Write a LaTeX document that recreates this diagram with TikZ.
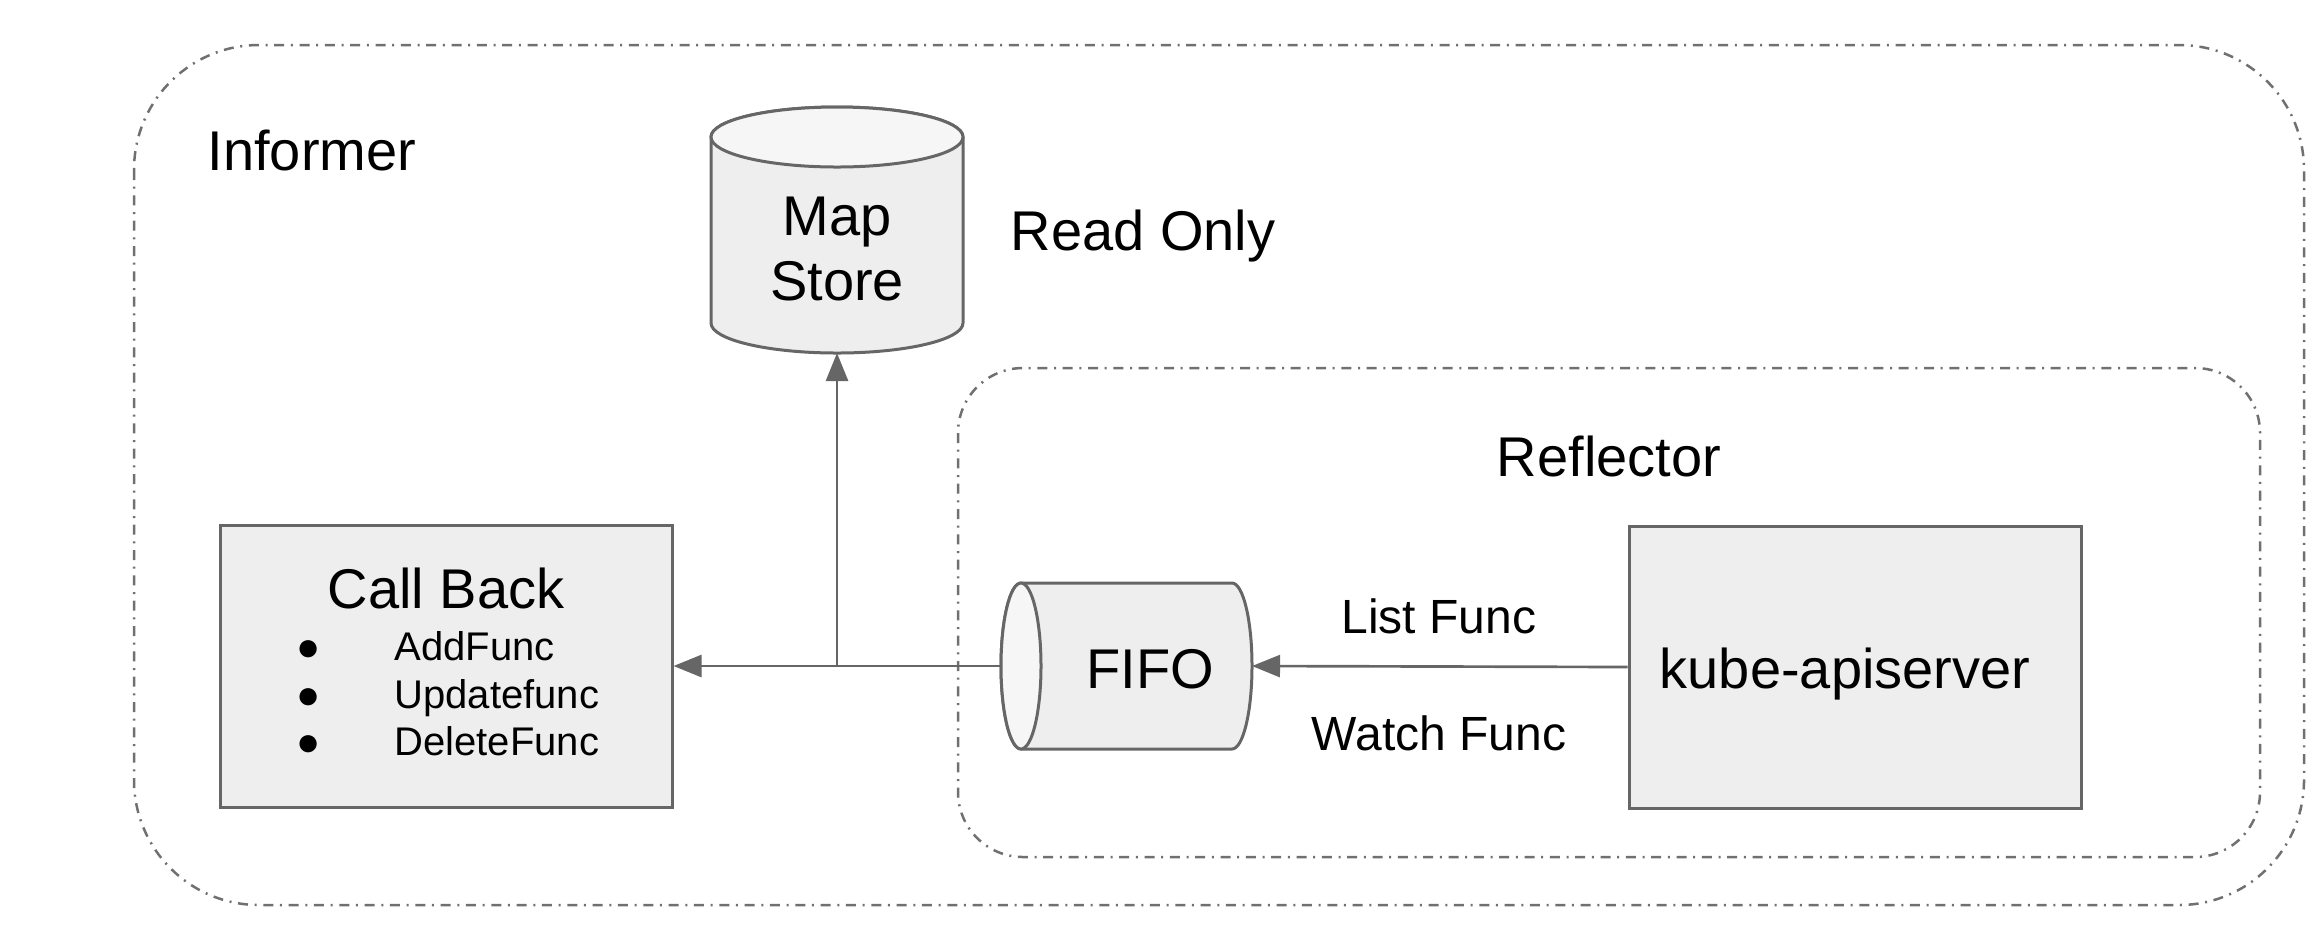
\documentclass[tikz,border=0pt]{standalone}
\usepackage{fontspec}
\setmainfont{Liberation Sans}
\usetikzlibrary{arrows.meta}
\definecolor{boxfill}{HTML}{EEEEEE}
\definecolor{capfill}{HTML}{F6F6F6}
\definecolor{edge}{HTML}{666666}
\definecolor{dashc}{HTML}{707070}
\newcommand{\blt}{\makebox[5.1pt]{●}\hspace{23.25pt}}
\begin{document}
\begin{tikzpicture}[x=0.3pt,y=-0.3pt,
  grp/.style={draw=dashc, line width=0.75pt, dash pattern=on 3pt off 2pt on 0.6pt off 2pt},
  box/.style={draw=edge, fill=boxfill, line width=0.9pt, inner sep=0pt},
  big/.style={font=\fontsize{16.8}{19.5}\selectfont, inner sep=0pt},
  mid/.style={font=\fontsize{14.4}{17}\selectfont, inner sep=0pt},
  small/.style={font=\fontsize{12}{14.25}\selectfont, inner sep=0pt},
  conn/.style={draw=edge, line width=0.8pt},
  arr/.style={conn, -{Triangle[length=8.4pt,width=6.6pt]}},
  ghost/.style={inner sep=0pt, outer sep=0pt}]

\useasboundingbox (0,0) rectangle (2324,942);

% group frames
\draw[grp, rounded corners=37.5pt] (134,45) rectangle (2304,905);
\draw[grp, rounded corners=19.5pt] (958,368) rectangle (2260,857);

% boxes
\node[box, minimum width=135.6pt, minimum height=84.6pt] (callback) at (446,666) {};
\node[box, minimum width=135.6pt, minimum height=84.6pt] (kube) at (1855,667) {};

% Map Store cylinder
\node[ghost, minimum width=75.6pt, minimum height=73.8pt] (store) at (837,230) {};
\filldraw[draw=edge, fill=boxfill, line width=0.9pt]
  (711,137) -- (711,323)
  arc[start angle=180, end angle=360, x radius=37.8pt, y radius=9pt]
  -- (963,137)
  arc[start angle=0, end angle=180, x radius=37.8pt, y radius=9pt] -- cycle;
\filldraw[draw=edge, fill=capfill, line width=0.9pt]
  (837,137) ellipse[x radius=37.8pt, y radius=9pt];

% FIFO cylinder
\node[ghost, minimum width=75.3pt, minimum height=49.8pt] (fifo) at (1126.5,666) {};
\filldraw[draw=edge, fill=boxfill, line width=0.9pt]
  (1021,583) -- (1232,583)
  arc[start angle=90, end angle=-90, x radius=6pt, y radius=24.9pt]
  -- (1021,749)
  arc[start angle=270, end angle=90, x radius=6pt, y radius=24.9pt] -- cycle;
\filldraw[draw=edge, fill=capfill, line width=0.9pt]
  (1021,666) ellipse[x radius=6pt, y radius=24.9pt];

% connectors
\draw[arr] (kube.west) -- (fifo.east);
\draw[arr] (fifo.west) -- (callback.east);
\coordinate (j) at (store.south |- fifo.west);
\draw[arr] (j) -- (store.south);

% texts
\node[big, anchor=base west] (informer) at (207,170) {Informer};
\node[big, anchor=base west] (readonly) at (1010,250) {Read Only};
\node[big, align=center] (storetxt) at (837,249) {Map\\Store};
\node[big, anchor=base] (reflector) at (1609,476) {Reflector};
\node[big, anchor=base] (cbtitle) at (446,608) {Call Back};
\node[small, anchor=base west] (cb1) at (299.5,660) {\blt AddFunc};
\node[small, anchor=base west] (cb2) at (299.5,708) {\blt Updatefunc};
\node[small, anchor=base west] (cb3) at (299.5,755) {\blt DeleteFunc};
\node[big, anchor=base] (fifotxt) at (1150,688) {FIFO};
\node[big, anchor=base] (kubetxt) at (1845,688) {kube-apiserver};
\node[mid, anchor=base] (list) at (1439,633) {List Func};
\node[mid, anchor=base] (watch) at (1439,750) {Watch Func};
\end{tikzpicture}
\end{document}
